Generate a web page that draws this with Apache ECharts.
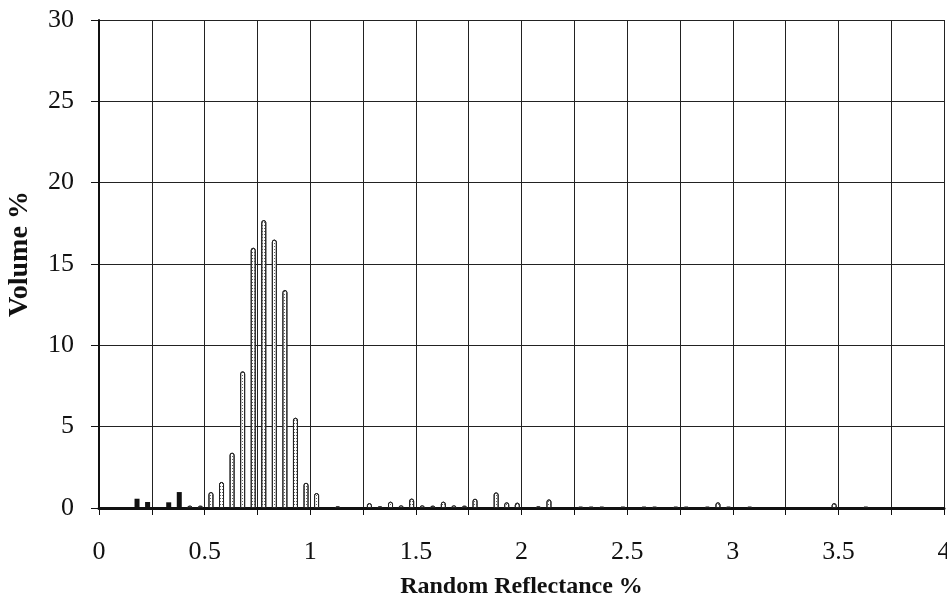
<!DOCTYPE html>
<html>
<head>
<meta charset="utf-8">
<script src="https://cdn.jsdelivr.net/npm/echarts@6/dist/echarts.min.js"></script>
<style>
  html, body { margin: 0; padding: 0; background: #fff; }
  #chart { width: 947px; height: 601px; }
</style>
</head>
<body>
<div id="chart"></div>
<script>
// reflectance bins (%) and volume (%)
const darkX = [0.18, 0.23, 0.33, 0.38];
const darkY = [0.57, 0.37, 0.35, 0.98];

const lightX = [0.43, 0.48, 0.53, 0.58, 0.63, 0.68, 0.73, 0.78, 0.83, 0.88, 0.93, 0.98, 1.03, 1.13,
  1.28, 1.33, 1.38, 1.43, 1.48, 1.53, 1.58, 1.63, 1.68, 1.73, 1.78, 1.88, 1.93, 1.98, 2.08, 2.13,
  2.28, 2.33, 2.38, 2.48, 2.58, 2.63, 2.73, 2.78, 2.88, 2.93, 2.98, 3.08, 3.48, 3.63];
const lightY = [0.14, 0.14, 0.98, 1.6, 3.4, 8.4, 16.0, 17.7, 16.5, 13.4, 5.55, 1.55, 0.92, 0.1,
  0.3, 0.1, 0.39, 0.16, 0.58, 0.16, 0.14, 0.39, 0.16, 0.14, 0.57, 0.96, 0.35, 0.33, 0.1, 0.53,
  0.08, 0.08, 0.08, 0.08, 0.08, 0.08, 0.08, 0.08, 0.08, 0.35, 0.08, 0.08, 0.3, 0.08];

const xTicks = ["0", "0.5", "1", "1.5", "2", "2.5", "3", "3.5", "4"];

const font = "'Liberation Serif', 'DejaVu Serif', serif";

const option = {
  animation: false,
  backgroundColor: "#fff",
  grid: { left: 99, right: 3, top: 20, bottom: 93, outerBoundsMode: "none" },
  xAxis: {
    type: "value",
    min: 0,
    max: 4,
    interval: 0.25,
    name: "Random Reflectance %",
    nameLocation: "middle",
    nameGap: 67,
    nameTextStyle: { fontFamily: font, fontSize: 24, fontWeight: "bold", color: "#111" },
    axisLine: { lineStyle: { color: "#111", width: 3 } },
    axisTick: { show: true, length: 7, lineStyle: { color: "#111", width: 1 } },
    axisLabel: {
      margin: 31,
      fontFamily: font,
      fontSize: 26,
      color: "#111",
      formatter: (v) => {
        const i = Math.round(v * 2);
        return Math.abs(v * 2 - i) < 1e-6 ? xTicks[i] : "";
      }
    },
    splitLine: { show: true, lineStyle: { color: "#222", width: 1 } }
  },
  yAxis: {
    type: "value",
    min: 0,
    max: 30,
    interval: 5,
    name: "Volume %",
    nameLocation: "middle",
    nameGap: 65,
    nameTextStyle: {
      fontFamily: font, fontSize: 28, fontWeight: "bold", color: "#111",
      padding: [0, 0, 0, 20]
    },
    axisLine: { show: true, lineStyle: { color: "#111", width: 2 } },
    axisTick: { show: true, length: 8, lineStyle: { color: "#111" } },
    axisLabel: { margin: 25, fontFamily: font, fontSize: 26, color: "#111" },
    splitLine: { show: true, lineStyle: { color: "#222", width: 1 } }
  },
  series: [
    {
      type: "bar",
      data: darkX.map((x, i) => [x, darkY[i]]),
      barWidth: 5,
      barGap: "-100%",
      itemStyle: { color: "#111" }
    },
    {
      type: "bar",
      data: lightX.map((x, i) => [x, lightY[i]]),
      barWidth: 5,
      itemStyle: {
        color: "#fff",
        borderColor: "#222",
        borderWidth: 1,
        borderRadius: [2, 2, 0, 0],
        decal: {
          symbol: "rect",
          symbolSize: 1,
          dashArrayX: [1, 1],
          dashArrayY: [1, 2],
          color: "#666"
        }
      }
    }
  ]
};

const chart = echarts.init(document.getElementById("chart"));
chart.setOption(option);
window.addEventListener("resize", () => chart.resize());
</script>
</body>
</html>
